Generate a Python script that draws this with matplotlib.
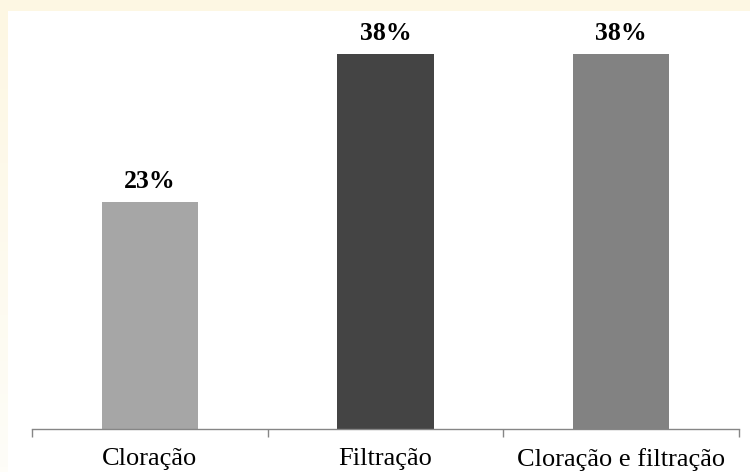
import numpy as np
import matplotlib.pyplot as plt
from matplotlib.colors import LinearSegmentedColormap
from matplotlib.patches import Rectangle

# Data
categories = ["Cloração", "Filtração", "Cloração e filtração"]
percentages = [23, 38, 38]
bar_colors = ["#a6a6a6", "#444444", "#828282"]

plt.rcParams['font.family'] = ['Liberation Serif', 'DejaVu Serif']

fig = plt.figure(figsize=(7.5, 4.72), dpi=100)
fig.patch.set_facecolor("white")

# cream slide border at top, fading strip on the left
fig.add_artist(Rectangle((0, 1 - 11 / 472), 1, 11 / 472, transform=fig.transFigure,
                         facecolor="#fdf7e3", edgecolor="none", zorder=0))
strip = fig.add_axes([0, 0, 8 / 750, 1 - 11 / 472])
strip.axis("off")
fade = LinearSegmentedColormap.from_list("fade", ["#fefdf8", "#fdf7e3"])
strip.imshow(np.linspace(0, 1, 100).reshape(-1, 1), cmap=fade, aspect="auto",
             origin="lower", extent=[0, 1, 0, 1])

ax = fig.add_axes([32 / 750, 43 / 472, 707 / 750, 418 / 472])
ax.set_facecolor("none")

x = range(len(categories))
bars = ax.bar(x, percentages, width=0.41, color=bar_colors, zorder=2)

for xi, v in zip(x, percentages):
    ax.text(xi, v + 1.45, f"{v}%", ha="center", va="baseline",
            fontsize=18.5, fontweight="bold")

ax.set_xlim(-0.5, len(categories) - 0.5)
ax.set_ylim(0, 42.36)

for s in ["top", "right", "left"]:
    ax.spines[s].set_visible(False)
ax.spines["bottom"].set_color("#868686")
ax.spines["bottom"].set_linewidth(1)

ax.set_yticks([])
ax.set_xticks(list(x))
ax.set_xticklabels(categories, fontsize=19)
ax.tick_params(axis="x", which="major", length=0, pad=14)
ax.set_xticks([i - 0.5 for i in range(len(categories) + 1)], minor=True)
ax.tick_params(axis="x", which="minor", length=6, color="#868686", width=1)

fig.savefig("out.png", dpi=100)
